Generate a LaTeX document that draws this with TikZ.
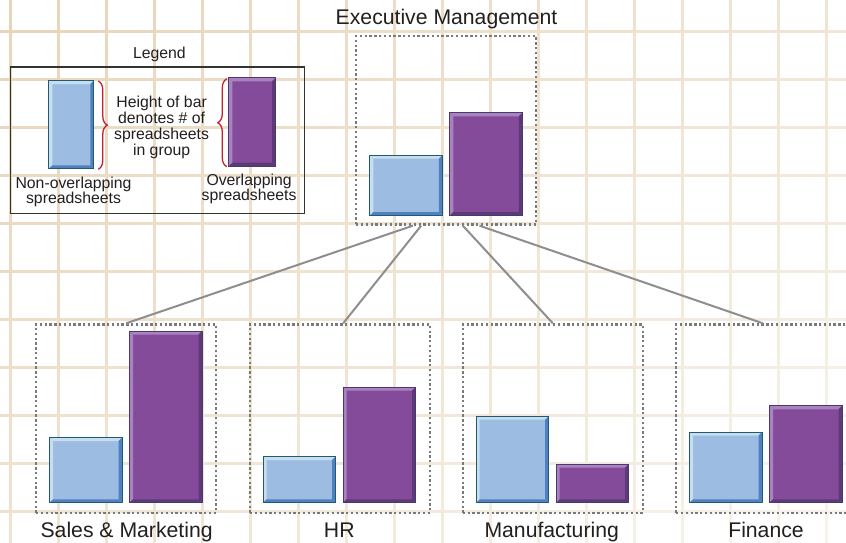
\documentclass[tikz,border=0pt]{standalone}
\usepackage{fontspec}
\setmainfont{Liberation Sans}
\usetikzlibrary{decorations.pathreplacing}
\definecolor{griddark}{HTML}{E7D5BA}
\definecolor{gridlight}{HTML}{F8F3EC}
\definecolor{txt}{HTML}{231F20}
\definecolor{bluefill}{HTML}{9DBCE2}
\definecolor{bluebd}{HTML}{1E5C73}
\definecolor{bluelt}{HTML}{C8DEEE}
\definecolor{bluedk}{HTML}{5080C0}
\definecolor{purfill}{HTML}{854B9B}
\definecolor{purbd}{HTML}{4A3870}
\definecolor{purlt}{HTML}{A883BF}
\definecolor{purdk}{HTML}{5C3A77}
\definecolor{dotgray}{HTML}{7A7A7A}
\definecolor{linkgray}{HTML}{8E8E8E}
\definecolor{bracered}{HTML}{C8202A}
\newcommand\bevelfill[2]{%
  \path (path picture bounding box.north west) coordinate (bNW)
        (path picture bounding box.north east) coordinate (bNE)
        (path picture bounding box.south west) coordinate (bSW)
        (path picture bounding box.south east) coordinate (bSE);
  \fill[#1] (bNW) -- (bNE) -- ([shift={(-3.5pt,-3.5pt)}]bNE) -- ([shift={(3.5pt,-3.5pt)}]bNW) -- cycle;
  \fill[#1] (bNW) -- (bSW) -- ([shift={(3.5pt,3.5pt)}]bSW) -- ([shift={(3.5pt,-3.5pt)}]bNW) -- cycle;
  \fill[#2] (bSW) -- (bSE) -- ([shift={(-3.5pt,3.5pt)}]bSE) -- ([shift={(3.5pt,3.5pt)}]bSW) -- cycle;
  \fill[#2] (bNE) -- (bSE) -- ([shift={(-3.5pt,3.5pt)}]bSE) -- ([shift={(-3.5pt,-3.5pt)}]bNE) -- cycle;
}
\tikzset{
  gridline/.style={line width=3pt},
  barbase/.style={rectangle, inner sep=0pt, anchor=south west, line width=1pt, minimum width=72.5pt},
  bluebar/.style={barbase, draw=bluebd, fill=bluefill, path picture={\bevelfill{bluelt}{bluedk}}},
  purbar/.style={barbase, draw=purbd, fill=purfill, path picture={\bevelfill{purlt}{purdk}}},
  dotbox/.style={rectangle, draw=dotgray, line width=2.3pt, dash pattern=on 2.3pt off 2.5pt,
    inner sep=0pt, anchor=north west, minimum width=180pt, minimum height=188.4pt},
  link/.style={draw=linkgray, line width=2pt},
  bigtxt/.style={text=txt, inner sep=0pt, anchor=base, font=\fontsize{21.2}{25}\selectfont},
  smalltxt/.style={text=txt, inner sep=0pt, anchor=base, font=\fontsize{15.8}{16}\selectfont},
  redbrace/.style={draw=bracered, line width=1.3pt, decorate, decoration={brace, amplitude=9pt}},
}
\begin{document}
\begin{tikzpicture}[x=1pt, y=-1pt]
\useasboundingbox (0,0) rectangle (846,543);
\clip (0,0) rectangle (846,543);
\fill[white] (0,0) rectangle (846,543);
% grid
\foreach \i in {0,...,17} {
  \foreach \j in {0,...,11} {
    \pgfmathsetmacro\gx{10.5+48*\i}
    \pgfmathsetmacro\gy{-16.5+48*\j}
    \pgfmathsetmacro\gp{max(0,min(100,100-55*(\gx/846)-45*((\gy+24)/543)))}
    \draw[gridline, draw=griddark!\gp!gridlight] (\gx,\gy) -- (\gx,\gy+48);
  }
}
\foreach \j in {0,...,10} {
  \foreach \i in {0,...,18} {
    \pgfmathsetmacro\gy{31.5+48*\j}
    \pgfmathsetmacro\gx{-37.5+48*\i}
    \pgfmathsetmacro\gp{max(0,min(100,100-55*((\gx+24)/846)-45*(\gy/543)))}
    \draw[gridline, draw=griddark!\gp!gridlight] (\gx,\gy) -- (\gx+48,\gy);
  }
}
% legend
\node[smalltxt] (legtitle) at (159.4,58.5) {Legend};
\node[rectangle, draw=black!80, line width=1.2pt, inner sep=0pt, anchor=north west,
  minimum width=294.5pt, minimum height=146.5pt] (legend) at (9.5,66.5) {};
\node[bluebar, minimum width=45pt, minimum height=88.3pt] (lb) at (48.3,169.3) {};
\node[purbar, minimum width=46.7pt, minimum height=88.4pt] (lp) at (228.3,166.7) {};
\draw[redbrace] ([xshift=4pt,yshift=-1pt]lb.north east) -- ([xshift=4pt,yshift=0pt]lb.south east);
\draw[redbrace] ([xshift=-1.5pt]lp.south west) -- ([xshift=-1.5pt,yshift=-1.5pt]lp.north west);
\node[smalltxt] (h1) at (161.6,107.7) {Height of bar};
\node[smalltxt] (h2) at (161.6,123.7) {denotes \# of};
\node[smalltxt] (h3) at (161.6,139.7) {spreadsheets};
\node[smalltxt] (h4) at (161.6,155.7) {in group};
\node[smalltxt] (n1) at (73.5,188.3) {Non-overlapping};
\node[smalltxt] (n2) at (73.5,203.3) {spreadsheets};
\node[smalltxt] (o1) at (249.1,185) {Overlapping};
\node[smalltxt] (o2) at (249.1,200) {spreadsheets};
% executive
\node[bigtxt] (exectitle) at (446.5,25) {Executive Management};
\node[dotbox] (exec) at (355,35) {};
\node[bluebar, minimum height=60.3pt] (eb) at (369.3,216) {};
\node[purbar, minimum height=102.7pt] (ep) at (449.3,216) {};
% groups
\node[dotbox] (sales) at (35,323.3) {};
\node[bluebar, minimum height=65.3pt] (sb) at (49,503.3) {};
\node[purbar, minimum height=171.6pt] (sp) at (129,503.3) {};
\node[bigtxt] (salestxt) at (126.6,537.5) {Sales \& Marketing};
\node[dotbox] (hr) at (249,323.3) {};
\node[bluebar, minimum height=46.3pt] (hb) at (262.5,503.3) {};
\node[purbar, minimum height=115.6pt] (hp) at (342.5,503.3) {};
\node[bigtxt] (hrtxt) at (339.3,537.5) {HR};
\node[dotbox] (manu) at (461.7,323.3) {};
\node[bluebar, minimum height=86.6pt] (mb) at (475.7,503.3) {};
\node[purbar, minimum height=38.6pt] (mp) at (555.7,503.3) {};
\node[bigtxt] (manutxt) at (551.7,537.5) {Manufacturing};
\node[dotbox] (fin) at (675,323.3) {};
\node[bluebar, minimum height=70.6pt] (fb) at (689,503.3) {};
\node[purbar, minimum height=97pt] (fp) at (769,503.3) {};
\node[bigtxt] (fintxt) at (766,537.5) {Finance};
% connectors
\coordinate (e1) at ([xshift=-33.3pt]exec.south);
\coordinate (e2) at ([xshift=-25pt]exec.south);
\coordinate (e3) at ([xshift=16.7pt]exec.south);
\coordinate (e4) at ([xshift=33.3pt]exec.south);
\draw[link] (e1) -- (sales.north);
\draw[link] (e2) -- ([xshift=3pt]hr.north);
\draw[link] (e3) -- (manu.north);
\draw[link] (e4) -- ([xshift=-3.3pt]fin.north);
\end{tikzpicture}
\end{document}
